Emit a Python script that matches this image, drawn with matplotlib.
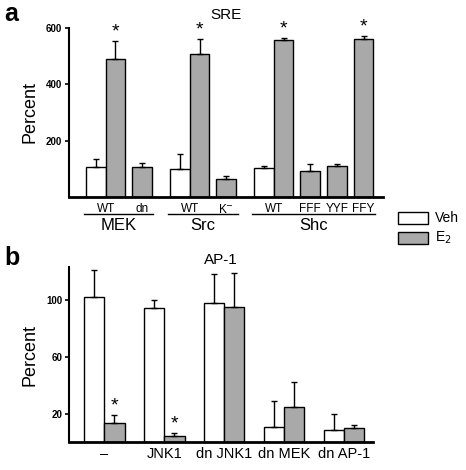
import matplotlib
matplotlib.use("Agg")
import matplotlib.pyplot as plt
from matplotlib.patches import Rectangle

plt.rcParams['font.family'] = ['Liberation Sans', 'DejaVu Sans']

# ---------------- data: panel a (SRE) ----------------
a_groups = ["MEK", "Src", "Shc"]
a_sublabels = [["WT", "dn"], ["WT", "K$^{-}$"], ["WT", "FFF", "YYF", "FFY"]]
# Veh value for the WT pair in each group
a_veh = [108, 99, 102]
a_veh_err = [27, 55, 9]
# E2 values for each sub-label
a_e2 = [[489, 108], [505, 65], [555, 92, 112, 559]]
a_e2_err = [[64, 14], [54, 10], [9, 25, 6, 10]]
a_star = [[True, False], [True, False], [True, False, False, True]]

# ---------------- data: panel b (AP-1) ----------------
b_labels = ["–", "JNK1", "dn JNK1", "dn MEK", "dn AP-1"]
b_veh = [102.4, 94.8, 98.4, 10.4, 8.7]
b_veh_err = [19.0, 5.2, 20.4, 18.6, 10.8]
b_e2 = [13.6, 4.0, 95.5, 24.5, 9.6]
b_e2_err = [5.2, 2.4, 23.8, 18.1, 2.4]
b_star = [True, True, False, False, False]

GRAY = "#a9a9a9"
W, H = 466, 470
fig = plt.figure(figsize=(W / 100, H / 100), dpi=100)


def ax_rect(l, t, r, b):
    return [l / W, 1 - b / H, (r - l) / W, (b - t) / H]


err_kw = dict(ecolor="black", elinewidth=1.0, capsize=2.4, capthick=1.0)

# ---------------- panel a ----------------
axa = fig.add_axes(ax_rect(69, 27.5, 383, 197.2))
start, pair_gap, group_gap = 0.87, 0.36, 0.93
cur = start
group_spans = []
for gi, g in enumerate(a_groups):
    gstart = cur
    for si, lab in enumerate(a_sublabels[gi]):
        if si == 0:
            axa.bar(cur, a_veh[gi], width=1, align="edge", color="white",
                    edgecolor="black", linewidth=1.0)
            axa.errorbar(cur + 0.5, a_veh[gi], yerr=[[0], [a_veh_err[gi]]],
                         fmt="none", **err_kw)
            xe = cur + 1
            lab_x = cur + 1
            cur += 2
        else:
            cur += pair_gap
            xe = cur
            lab_x = cur + 0.5
            cur += 1
        v = a_e2[gi][si]
        e = a_e2_err[gi][si]
        axa.bar(xe, v, width=1, align="edge", color=GRAY,
                edgecolor="black", linewidth=1.0)
        axa.errorbar(xe + 0.5, v, yerr=[[0], [e]], fmt="none", **err_kw)
        if a_star[gi][si]:
            axa.text(xe + 0.5, v + e + 2, "*", ha="center", va="bottom",
                     fontsize=14)
        axa.text(lab_x, -20, lab, ha="center", va="top", fontsize=8.5,
                 clip_on=False)
    group_spans.append((gstart - 0.1, cur + 0.08))
    cur += group_gap

for (x0, x1), g in zip(group_spans, a_groups):
    axa.plot([x0, x1], [-60, -60], color="black", lw=1.0, clip_on=False)
    axa.text((x0 + x1) / 2, -72, g, ha="center", va="top", fontsize=12,
             clip_on=False)

axa.set_xlim(0, (383 - 69) / 19.6)
axa.set_ylim(0, 600)
axa.set_yticks([200, 400, 600])
axa.set_xticks([])
for s in ["top", "right"]:
    axa.spines[s].set_visible(False)
axa.spines["left"].set_linewidth(1.5)
axa.spines["bottom"].set_linewidth(2.0)
axa.tick_params(axis="y", labelsize=7, length=3, width=1.2, pad=2)
for t in axa.get_yticklabels():
    t.set_fontweight("bold")
axa.set_ylabel("Percent", fontsize=13, labelpad=5)
axa.set_title("SRE", fontsize=11, pad=6)

# ---------------- panel b ----------------
axb = fig.add_axes(ax_rect(69, 267, 373, 442))
bw = 20.3
bstart, bstep = 0.74, 2.95
for i, lab in enumerate(b_labels):
    x = bstart + i * bstep
    axb.bar(x, b_veh[i], width=1, align="edge", color="white",
            edgecolor="black", linewidth=1.0)
    axb.errorbar(x + 0.5, b_veh[i], yerr=[[0], [b_veh_err[i]]], fmt="none", **err_kw)
    axb.bar(x + 1, b_e2[i], width=1, align="edge", color=GRAY,
            edgecolor="black", linewidth=1.0)
    axb.errorbar(x + 1.5, b_e2[i], yerr=[[0], [b_e2_err[i]]], fmt="none", **err_kw)
    if b_star[i]:
        axb.text(x + 1.5, b_e2[i] + b_e2_err[i] + 0.5, "*", ha="center",
                 va="bottom", fontsize=14)
    axb.text(x + 1, -3.5, lab, ha="center", va="top", fontsize=10.5,
             clip_on=False)

axb.set_xlim(0, (373 - 69) / bw)
axb.set_ylim(0, 123.5)
axb.set_yticks([20, 60, 100])
axb.set_xticks([])
for s in ["top", "right"]:
    axb.spines[s].set_visible(False)
axb.spines["left"].set_linewidth(1.5)
axb.spines["bottom"].set_linewidth(2.0)
axb.tick_params(axis="y", labelsize=7, length=3, width=1.2, pad=2)
for t in axb.get_yticklabels():
    t.set_fontweight("bold")
axb.set_ylabel("Percent", fontsize=13, labelpad=5)
axb.set_title("AP-1", fontsize=11, pad=-2)

# ---------------- legend ----------------
for (y0, fc, lab) in [(212, "white", "Veh"), (232, GRAY, "E$_2$")]:
    fig.patches.append(Rectangle((398 / W, 1 - (y0 + 12) / H), 30 / W, 12 / H,
                                 transform=fig.transFigure, facecolor=fc,
                                 edgecolor="black", linewidth=1.0))
    fig.text(435 / W, 1 - (y0 + 6) / H, lab, fontsize=10, va="center", ha="left")

# ---------------- panel letters ----------------
fig.text(4 / W, 1 - 14 / H, "a", fontsize=18, fontweight="bold", va="center")
fig.text(4 / W, 1 - 258 / H, "b", fontsize=18, fontweight="bold", va="center")

fig.savefig("out.png", dpi=100)
